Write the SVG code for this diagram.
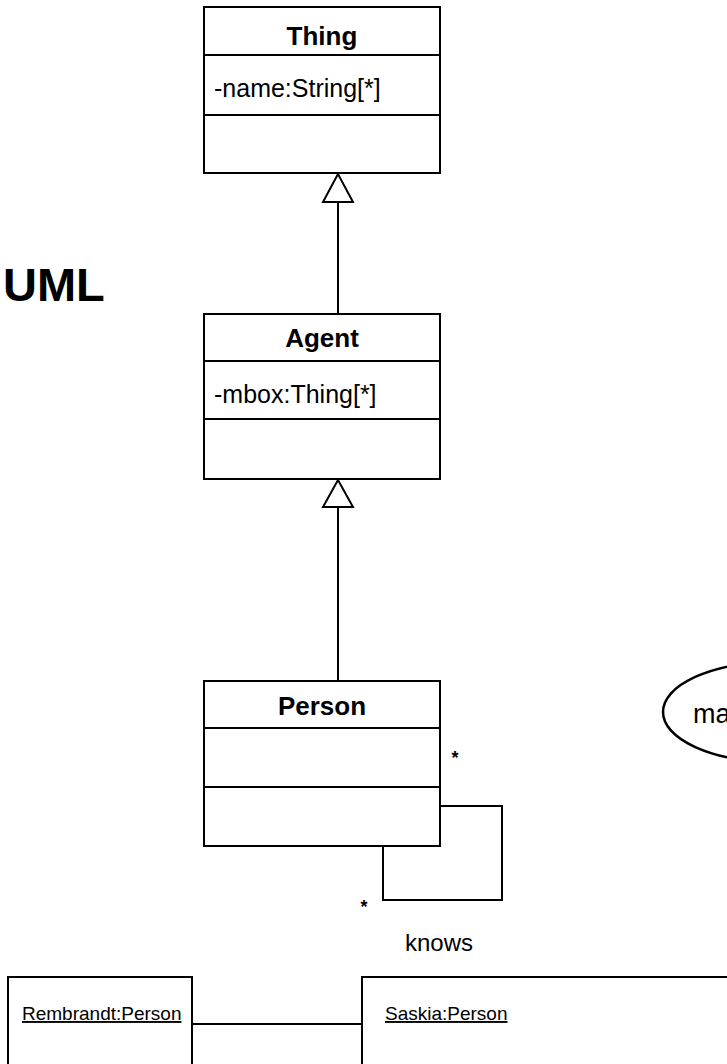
<svg xmlns="http://www.w3.org/2000/svg" width="727" height="1064" viewBox="0 0 727 1064">
<style>
.box{fill:#fff;stroke:#000;stroke-width:2}
.ln{fill:none;stroke:#000;stroke-width:2}
.tri{fill:#fff;stroke:#000;stroke-width:2;stroke-linejoin:miter}
.t{font-family:"Liberation Sans",Arial,sans-serif;fill:#000}
.title{font-weight:bold;font-size:26px;text-anchor:middle}
.attr{font-size:25px}
.obj{font-size:19px;text-decoration:underline}
.star{font-size:18px;font-weight:bold;text-anchor:middle}
</style>
<rect width="727" height="1064" fill="#fff"/>
<text class="t" x="3" y="301" font-size="47" font-weight="bold">UML</text>
<g id="connectors">
<line class="ln" x1="338" y1="202" x2="338" y2="314"/>
<polygon class="tri" points="338,174 323,202 353,202"/>
<line class="ln" x1="338" y1="507" x2="338" y2="681"/>
<polygon class="tri" points="338,480 323,507 353,507"/>
<path class="ln" d="M440,806 H502 V900 H383 V846"/>
<text class="t star" x="455" y="764">*</text>
<text class="t star" x="364" y="913">*</text>
<text class="t" x="405" y="951" font-size="24">knows</text>
<line class="ln" x1="192" y1="1024" x2="362" y2="1024"/>
</g>
<g id="Thing">
<rect class="box" x="204" y="7" width="236" height="166"/>
<line class="ln" x1="204" y1="55" x2="440" y2="55"/>
<line class="ln" x1="204" y1="115" x2="440" y2="115"/>
<text class="t title" x="322" y="45">Thing</text>
<text class="t attr" x="214" y="97">-name:String[*]</text>
</g>
<g id="Agent">
<rect class="box" x="204" y="314" width="236" height="165"/>
<line class="ln" x1="204" y1="361" x2="440" y2="361"/>
<line class="ln" x1="204" y1="419" x2="440" y2="419"/>
<text class="t title" x="322" y="347">Agent</text>
<text class="t attr" x="214" y="403">-mbox:Thing[*]</text>
</g>
<g id="Person">
<rect class="box" x="204" y="681" width="236" height="165"/>
<line class="ln" x1="204" y1="728" x2="440" y2="728"/>
<line class="ln" x1="204" y1="787" x2="440" y2="787"/>
<text class="t title" x="322" y="715">Person</text>
</g>
<g id="ellipse-node">
<ellipse cx="775" cy="712" rx="112" ry="50" fill="#fff" stroke="#000" stroke-width="2.5"/>
<text class="t" x="693" y="723" font-size="27">ma</text>
</g>
<g id="Rembrandt">
<rect class="box" x="8" y="977" width="184" height="100"/>
<text class="t obj" x="22" y="1020">Rembrandt:Person</text>
</g>
<g id="Saskia">
<rect class="box" x="362" y="977" width="400" height="100"/>
<text class="t obj" x="385" y="1020">Saskia:Person</text>
</g>
</svg>
